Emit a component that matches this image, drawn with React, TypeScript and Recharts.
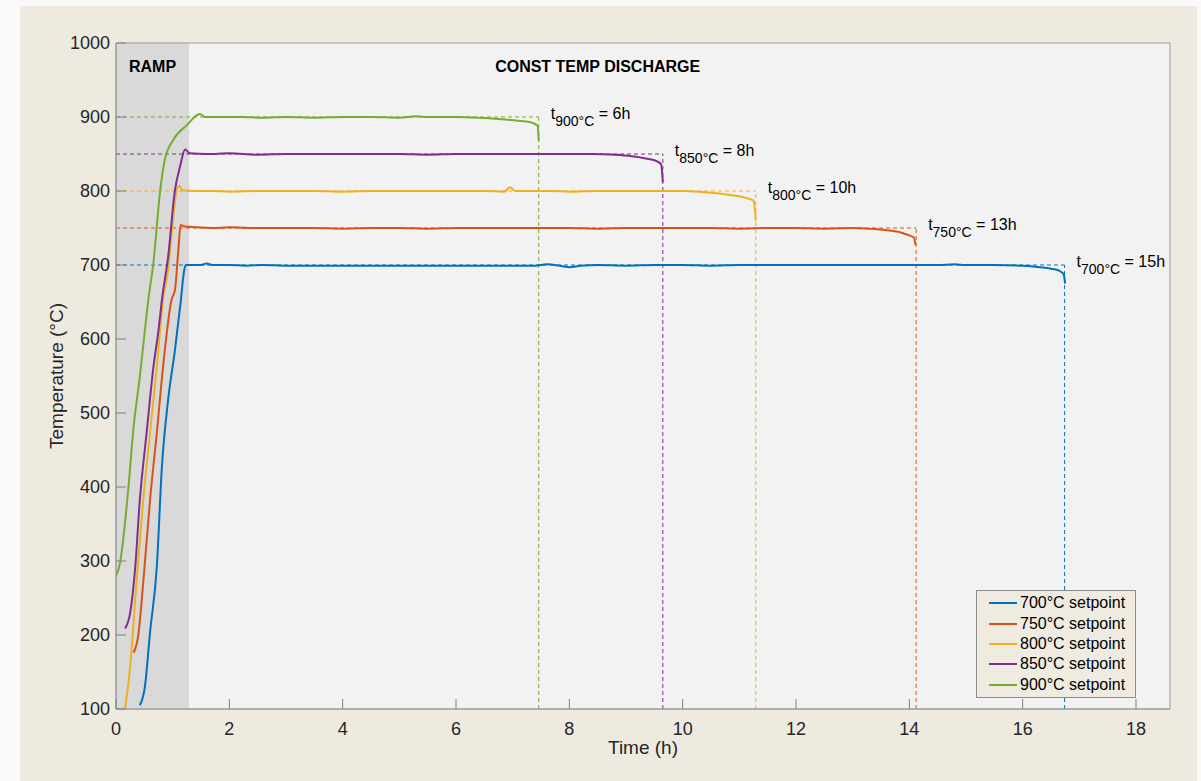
import {
  CartesianGrid,
  Legend,
  Line,
  LineChart,
  ReferenceArea,
  ReferenceDot,
  ReferenceLine,
  XAxis,
  YAxis,
} from 'recharts';

const FONT = '"Liberation Sans", Arial, Helvetica, sans-serif';
const TEXT = '#262626';
const AXIS = '#9a9a9a';

const xTicks = [0, 2, 4, 6, 8, 10, 12, 14, 16, 18];
const yTicks = [100, 200, 300, 400, 500, 600, 700, 800, 900, 1000];

const setpoints = [700, 750, 800, 850, 900];
const seriesNames = [
  '700°C setpoint',
  '750°C setpoint',
  '800°C setpoint',
  '850°C setpoint',
  '900°C setpoint',
];
const colors = ['#0072BD', '#D95319', '#EDB120', '#7E2F8E', '#77AC30'];
const dischargeEnd = [16.74, 14.12, 11.29, 9.65, 7.46];
const dischargeLabel = ['15h', '13h', '10h', '8h', '6h'];

// measured furnace temperature, time in hours
const time700 = [
  0.42, 0.51, 0.6, 0.72, 0.81, 0.92, 1.04, 1.14, 1.2, 1.23, 1.5, 1.6, 1.7, 2.0,
  2.3, 2.6, 3, 3.5, 4, 4.5, 5, 5.5, 6, 6.5, 7, 7.4, 7.6, 7.9, 8.0, 8.2, 8.5, 9,
  9.5, 10, 10.5, 11, 11.5, 12, 12.5, 13, 13.5, 14, 14.5, 14.8, 15, 15.5, 16,
  16.3, 16.5, 16.65, 16.72, 16.75,
];
const temp700 = [
  105, 130, 203, 292, 427, 518, 585, 649, 691, 700, 700, 702, 700, 700, 699, 700,
  699, 699, 699, 699, 699, 699, 699, 699, 699, 699, 701, 698, 697, 699, 700, 699,
  700, 700, 699, 700, 700, 700, 700, 700, 700, 700, 700, 701, 700, 700, 699, 697,
  695, 692, 688, 675,
];

const time750 = [
  0.31, 0.39, 0.48, 0.6, 0.72, 0.83, 0.98, 1.04, 1.1, 1.14, 1.22, 1.4, 1.7, 2,
  2.5, 3, 3.5, 4, 4.5, 5, 5.5, 6, 6.5, 7, 7.5, 8, 8.5, 9, 9.5, 10, 10.5, 11,
  11.5, 12, 12.5, 13, 13.3, 13.6, 13.85, 14.0, 14.08, 14.11,
];
const temp750 = [
  176, 198, 270, 382, 473, 562, 653, 666, 720, 754, 752, 751, 750, 751, 750, 750,
  750, 749, 750, 750, 749, 750, 750, 750, 750, 750, 749, 750, 750, 750, 750, 749,
  750, 750, 749, 750, 749, 747, 744, 740, 737, 727,
];

const time800 = [
  0.16, 0.25, 0.36, 0.48, 0.6, 0.72, 0.83, 0.92, 1.01, 1.07, 1.12, 1.17, 1.4,
  1.7, 2, 2.5, 3, 3.5, 4, 4.5, 5, 5.5, 6, 6.5, 6.85, 6.95, 7.05, 7.3, 7.7, 8,
  8.5, 9, 9.5, 10, 10.3, 10.6, 10.9, 11.1, 11.25, 11.29,
];
const temp800 = [
  101, 157, 270, 382, 473, 562, 653, 693, 765, 801, 807, 801, 800, 800, 799, 800,
  800, 800, 799, 800, 800, 800, 800, 800, 799, 805, 800, 800, 800, 799, 800, 800,
  800, 800, 799, 797, 794, 791, 787, 760,
];

const time850 = [
  0.16, 0.25, 0.34, 0.42, 0.54, 0.66, 0.75, 0.81, 0.92, 1.04, 1.13, 1.22, 1.3,
  1.6, 2, 2.5, 3, 3.5, 4, 4.5, 5, 5.5, 6, 6.5, 7, 7.5, 8, 8.4, 8.8, 9.1, 9.35,
  9.55, 9.62, 9.65,
];
const temp850 = [
  209, 230, 292, 382, 473, 562, 612, 653, 711, 801, 833, 856, 851, 850, 851, 849,
  850, 850, 850, 850, 850, 849, 850, 850, 850, 850, 850, 850, 849, 847, 844, 840,
  836, 812,
];

const time900 = [
  0, 0.07, 0.14, 0.22, 0.31, 0.42, 0.51, 0.57, 0.66, 0.78, 0.86, 1.01, 1.25,
  1.48, 1.57, 1.8, 2.2, 2.6, 3, 3.5, 4, 4.5, 5, 5.3, 5.5, 6, 6.4, 6.8, 7.1,
  7.35, 7.44, 7.46,
];
const temp900 = [
  280, 297, 338, 400, 481, 549, 612, 653, 703, 801, 842, 869, 889, 904, 900, 900,
  900, 899, 900, 899, 900, 900, 899, 901, 900, 900, 899, 897, 895, 892, 888, 868,
];

const times = [time700, time750, time800, time850, time900];
const temps = [temp700, temp750, temp800, temp850, temp900];

const series = setpoints.map((sp, i) => ({
  setpoint: sp,
  name: seriesNames[i],
  color: colors[i],
  end: dischargeEnd[i],
  label: dischargeLabel[i],
  data: times[i].map((t, j) => ({ time: t, temp: temps[i][j] })),
}));

function BottomTick({ x, y, payload }: any) {
  return (
    <g>
      <line x1={x} x2={x} y1={y} y2={y - 10} stroke="#808080" />
      <text x={x} y={y + 26} textAnchor="middle" fill={TEXT} fontSize={18} fontFamily={FONT}>
        {payload.value}
      </text>
    </g>
  );
}

function TopTick({ x, y }: any) {
  return <line x1={x} x2={x} y1={y} y2={y + 10} stroke="#808080" />;
}

function LeftTick({ x, y, payload }: any) {
  return (
    <g>
      <line x1={x} x2={x + 10} y1={y} y2={y} stroke="#808080" />
      <text x={x - 6} y={y} dy="0.36em" textAnchor="end" fill={TEXT} fontSize={18} fontFamily={FONT}>
        {payload.value}
      </text>
    </g>
  );
}

function RightTick({ x, y }: any) {
  return <line x1={x - 10} x2={x} y1={y} y2={y} stroke="#808080" />;
}

function XTitle({ viewBox }: any) {
  return (
    <text
      x={viewBox.x + viewBox.width / 2}
      y={viewBox.y + 45}
      textAnchor="middle"
      fill={TEXT}
      fontSize={19}
      fontFamily={FONT}
    >
      Time (h)
    </text>
  );
}

function YTitle({ viewBox }: any) {
  const cx = viewBox.x + 7;
  const cy = viewBox.y + viewBox.height / 2;
  return (
    <text
      x={cx}
      y={cy}
      transform={`rotate(-90 ${cx} ${cy})`}
      textAnchor="middle"
      fill={TEXT}
      fontSize={19}
      fontFamily={FONT}
    >
      Temperature (°C)
    </text>
  );
}

function PhaseText({ viewBox, text, center }: any) {
  const x = center ? viewBox.x + viewBox.width / 2 : viewBox.x;
  return (
    <text x={x} y={viewBox.y + 29} textAnchor="middle" fill="#000" fontSize={16} fontWeight="bold" fontFamily={FONT}>
      {text}
    </text>
  );
}

function DurationText({ viewBox, setpoint, label }: any) {
  return (
    <text x={viewBox.x + 12} y={viewBox.y + 2} fill="#000" fontSize={16} fontFamily={FONT}>
      <tspan>t</tspan>
      <tspan dy={7} fontSize={14}>{`${setpoint}°C`}</tspan>
      <tspan dy={-7}>{` = ${label}`}</tspan>
    </text>
  );
}

function SetpointLegend() {
  return (
    <div
      style={{
        background: '#efebe0',
        border: '1px solid #8c8c8c',
        padding: '2px 10px 2px 12px',
        fontFamily: FONT,
        fontSize: 16,
        color: '#000',
      }}
    >
      {series.map((s) => (
        <div key={s.name} style={{ display: 'flex', alignItems: 'center', height: 20.4 }}>
          <svg width={28} height={4} style={{ marginRight: 3 }}>
            <line x1={0} x2={28} y1={2} y2={2} stroke={s.color} strokeWidth={2} />
          </svg>
          <span>{s.name}</span>
        </div>
      ))}
    </div>
  );
}

export default function App() {
  return (
    <div style={{ position: 'absolute', left: 0, top: 0, width: 1201, height: 781, background: '#f9f9f9' }}>
      <div style={{ position: 'absolute', left: 20, top: 6, width: 1177, height: 775, background: '#eeeae0' }} />
      <div style={{ position: 'absolute', left: 0, top: 0 }}>
        <LineChart width={1201} height={781} margin={{ top: 43, right: 31, bottom: 32, left: 56 }}>
          <CartesianGrid horizontal={false} vertical={false} fill="#f2f2f2" stroke="none" />
          <ReferenceArea
            x1={0}
            x2={1.29}
            y1={100}
            y2={1000}
            fill="#d9d9d9"
            fillOpacity={1}
            stroke="none"
            label={<PhaseText text="RAMP" center />}
          />
          <ReferenceArea
            x1={0}
            x2={18.6}
            y1={100}
            y2={1000}
            fill="none"
            stroke={AXIS}
            strokeWidth={1}
          />
          <XAxis
            dataKey="time"
            type="number"
            domain={[0, 18.6]}
            ticks={xTicks}
            allowDataOverflow
            height={40}
            tickSize={0}
            tickMargin={0}
            tick={<BottomTick />}
            axisLine={{ stroke: AXIS }}
            label={<XTitle />}
          />
          <XAxis
            xAxisId="top"
            orientation="top"
            type="number"
            domain={[0, 18.6]}
            ticks={xTicks}
            allowDataOverflow
            height={0}
            tickSize={0}
            tickMargin={0}
            tick={<TopTick />}
            axisLine={{ stroke: AXIS }}
          />
          <YAxis
            type="number"
            domain={[100, 1000]}
            ticks={yTicks}
            allowDataOverflow
            width={60}
            tickSize={0}
            tickMargin={0}
            tick={<LeftTick />}
            axisLine={{ stroke: AXIS }}
            label={<YTitle />}
          />
          <YAxis
            yAxisId="right"
            orientation="right"
            type="number"
            domain={[100, 1000]}
            ticks={yTicks}
            allowDataOverflow
            width={0}
            tickSize={0}
            tickMargin={0}
            tick={<RightTick />}
            axisLine={{ stroke: AXIS }}
          />
          <ReferenceDot x={8.5} y={1000} r={0} stroke="none" label={<PhaseText text="CONST TEMP DISCHARGE" />} />
          {series.map((s) => (
            <ReferenceLine
              key={`h${s.setpoint}`}
              segment={[
                { x: 0, y: s.setpoint },
                { x: s.end, y: s.setpoint },
              ]}
              stroke={s.color}
              strokeDasharray="4 3"
              strokeWidth={1}
            />
          ))}
          {series.map((s) => (
            <ReferenceLine
              key={`v${s.setpoint}`}
              segment={[
                { x: s.end, y: 100 },
                { x: s.end, y: s.setpoint },
              ]}
              stroke={s.color}
              strokeDasharray="4 3"
              strokeWidth={1}
            />
          ))}
          {series.map((s) => (
            <Line
              key={s.name}
              data={s.data}
              dataKey="temp"
              name={s.name}
              type="monotone"
              stroke={s.color}
              strokeWidth={2}
              dot={false}
              activeDot={false}
              isAnimationActive={false}
            />
          ))}
          {series.map((s) => (
            <ReferenceDot
              key={`l${s.setpoint}`}
              x={s.end}
              y={s.setpoint}
              r={0}
              stroke="none"
              label={<DurationText setpoint={s.setpoint} label={s.label} />}
            />
          ))}
          <Legend
            layout="vertical"
            align="center"
            verticalAlign="middle"
            content={<SetpointLegend />}
            wrapperStyle={{ left: 976, top: 590, width: 'auto', height: 'auto' }}
          />
        </LineChart>
      </div>
    </div>
  );
}
